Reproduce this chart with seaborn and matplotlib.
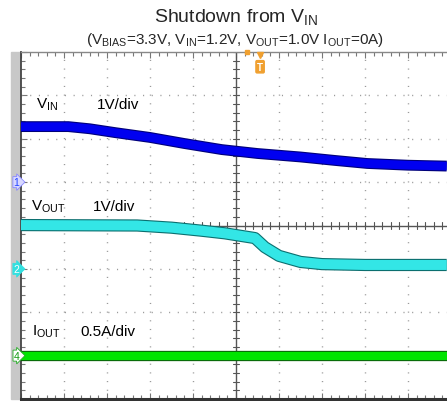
import numpy as np
import pandas as pd
import matplotlib
matplotlib.use("Agg")
import matplotlib.pyplot as plt
import seaborn as sns
from matplotlib.patches import Rectangle

sns.set_theme(style="white")
plt.rcParams['font.family'] = ['Liberation Sans', 'DejaVu Sans']
plt.rcParams['mathtext.fontset'] = 'custom'
plt.rcParams['mathtext.rm'] = 'Liberation Sans'

# ---- data (time in screen divisions, values in physical units) ----
vin_t = [0.0, 1.1, 1.6, 2.2, 3.0, 3.8, 4.67, 5.5, 6.5, 7.3, 8.05, 9.0, 9.9]
vin_v = [1.28, 1.28, 1.23, 1.14, 1.03, 0.89, 0.75, 0.66, 0.58, 0.50, 0.43, 0.39, 0.37]

vout_t = [0.0, 2.7, 3.5, 4.2, 4.74, 5.44, 5.67, 6.0, 6.5, 7.0, 8.0, 9.9]
vout_v = [1.01, 1.00, 0.95, 0.88, 0.82, 0.71, 0.50, 0.30, 0.16, 0.11, 0.09, 0.09]

iout_t = [0.0, 2.5, 5.0, 7.5, 9.9]
iout_a = [0.0, 0.0, 0.0, 0.0, 0.0]

# channel settings: (ground offset in div, units per div)
vin_offset, vin_scale = 1.0, 1.0
vout_offset, vout_scale = -1.0, 1.0
iout_offset, iout_scale = -3.0, 0.5

title = r"Shutdown from V$_\mathregular{IN}$"
subtitle = (r"(V$_\mathregular{BIAS}$=3.3V, V$_\mathregular{IN}$=1.2V, "
            r"V$_\mathregular{OUT}$=1.0V I$_\mathregular{OUT}$=0A)")

W, H = 447, 402
fig = plt.figure(figsize=(W / 100, H / 100), dpi=100)
ax_left, ax_top, ax_bot = 21, 53, 400
ax = fig.add_axes([ax_left / W, 1 - ax_bot / H, (W - ax_left) / W, (ax_bot - ax_top) / H])
ax.set_zorder(2)
xmax = (W - ax_left) / 43.0
ax.set_xlim(0, xmax)
ax.set_ylim(-4, 4)
ax.set_facecolor('white')

# gray side bar
fig.patches.append(Rectangle((11 / W, 1 - ax_bot / H), 9 / W, (ax_bot - ax_top) / H,
                             transform=fig.transFigure, color='#c8c8c8', zorder=-1))

# dotted graticule
dot = dict(color='#9a9a9a', linewidth=1.0, linestyle=(0, (0.8, 5.45)), zorder=1)
for gx in range(1, 10):
    if gx != 5:
        ax.axvline(gx, **dot)
for gy in range(-3, 4):
    if gy != 0:
        ax.axhline(gy, **dot)
ax.axvline(5, color='#555555', linewidth=1.0, zorder=1)
ax.axhline(0, color='#555555', linewidth=1.0, zorder=1)

# small ticks on the center cross
tk = 0.07
for tx in np.arange(0, xmax, 0.2):
    ax.plot([tx, tx], [-tk, tk], color='#555555', linewidth=0.8, zorder=1)
for ty in np.arange(-4, 4.01, 0.2):
    ax.plot([5 - tk, 5 + tk], [ty, ty], color='#555555', linewidth=0.8, zorder=1)

# spines
ax.spines['right'].set_visible(False)
ax.spines['top'].set_color('#888888')
ax.spines['top'].set_linewidth(1.0)
ax.spines['left'].set_color('#444444')
ax.spines['left'].set_linewidth(1.3)
ax.spines['bottom'].set_color('#333333')
ax.spines['bottom'].set_linewidth(2.2)
ax.set_xticks(np.arange(0, xmax, 1.0))
ax.set_xticks(np.arange(0, xmax, 0.2), minor=True)
ax.set_yticks(np.arange(-4, 4.01, 1.0))
ax.set_yticks(np.arange(-4, 4.01, 0.2), minor=True)
ax.tick_params(which='both', direction='in', top=True, bottom=True, left=True, right=False,
               labelbottom=False, labelleft=False, color='#777777')
ax.tick_params(which='major', length=4, width=0.8)
ax.tick_params(which='minor', length=3, width=0.8)

# traces
def trace(t, v, off, scale, fill, edge, lw):
    df = pd.DataFrame({'t': t, 'y': np.array(v) / scale + off})
    sns.lineplot(data=df, x='t', y='y', ax=ax, color=edge, linewidth=lw + 1.6,
                 sort=False, estimator=None, zorder=3, solid_capstyle='butt')
    sns.lineplot(data=df, x='t', y='y', ax=ax, color=fill, linewidth=lw,
                 sort=False, estimator=None, zorder=4, solid_capstyle='butt')

trace(vin_t, vin_v, vin_offset, vin_scale, '#0000f0', '#00007a', 6.2)
trace(vout_t, vout_v, vout_offset, vout_scale, '#33e6e6', '#0b6f6f', 7.2)
trace(iout_t, iout_a, iout_offset, iout_scale, '#00e400', '#0a6a0a', 5.8)
ax.set_xlabel('')
ax.set_ylabel('')

# channel labels
lab = dict(fontsize=11, color='black', va='center', ha='left', zorder=5)
ax.text(0.35, 2.80, r"V$_\mathregular{IN}$", **lab)
ax.text(1.77, 2.80, "1V/div", **lab)
ax.text(0.24, 0.45, r"V$_\mathregular{OUT}$", **lab)
ax.text(1.67, 0.45, "1V/div", **lab)
ax.text(0.26, -2.43, r"I$_\mathregular{OUT}$", **lab)
ax.text(1.37, -2.43, "0.5A/div", **lab)

# channel ground markers
mk = dict(fontsize=7.5, ha='right', va='center', clip_on=False, zorder=6)
ax.text(-0.04, vin_offset, "1", color='#2244ff',
        bbox=dict(boxstyle='rarrow,pad=0.05', fc='#d8d8ff', ec='#8888ff', lw=0.6), **mk)
ax.text(-0.04, vout_offset, "2", color='white',
        bbox=dict(boxstyle='rarrow,pad=0.05', fc='#33e0e0', ec='#33e0e0', lw=0.6), **mk)
ax.text(-0.04, iout_offset, "4", color='#119911',
        bbox=dict(boxstyle='rarrow,pad=0.05', fc='white', ec='#22aa22', lw=0.6), **mk)

# trigger markers
ax.plot([5.26], [4.0], marker='s', markersize=3, color='#f0a030', clip_on=False, zorder=6)
ax.plot([5.56], [3.92], marker='v', markersize=4, color='#f0a030', clip_on=False, zorder=6)
ax.text(5.56, 3.66, "T", fontsize=7, color='white', ha='center', va='center', zorder=6,
        fontweight='bold',
        bbox=dict(boxstyle='round,pad=0.12', fc='#f0a030', ec='#f0a030'))

# titles
fig.text(236 / W, 1 - 18 / H, title, fontsize=14, ha='center', va='center')
fig.text(235 / W, 1 - 40 / H, subtitle, fontsize=11, ha='center', va='center')

fig.savefig('out.png', dpi=100)
